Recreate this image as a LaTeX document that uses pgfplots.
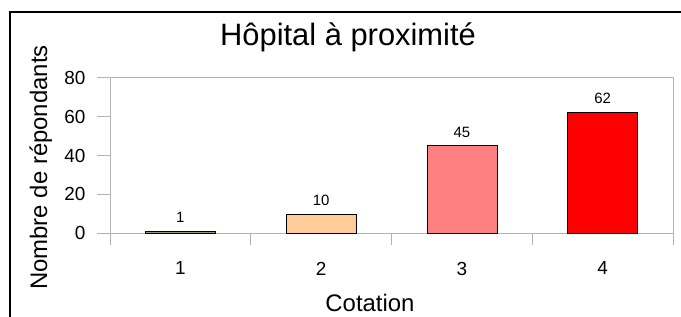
\documentclass[border=0pt]{standalone}
\usepackage{fontspec}
\setmainfont{Liberation Sans}
\usepackage{pgfplots}
\pgfplotsset{compat=1.18}
\definecolor{c1}{RGB}{153,153,119}
\definecolor{c2}{RGB}{255,204,153}
\definecolor{c3}{RGB}{255,128,128}
\definecolor{c4}{RGB}{255,0,0}
\definecolor{axgray}{RGB}{179,179,179}
\begin{document}
\begin{tikzpicture}[x=1bp,y=1bp]
\clip (0,0) rectangle (681,316);
\path[use as bounding box] (0,0) rectangle (681,316);
\draw[black, line width=1.2bp] (10,-10) -- (10,304) -- (700,304);
\begin{axis}[
  at={(110bp,82.7bp)}, anchor=south west,
  scale only axis, width=563bp, height=155.6bp,
  xmin=0.5, xmax=4.5, ymin=0, ymax=80,
  ybar, bar width=70bp, bar shift=0pt,
  axis line style={axgray, line width=0.8bp},
  xtick={1,2,3,4},
  minor xtick={0.5,1.5,2.5,3.5,4.5},
  ytick={0,20,40,60,80},
  tick align=outside,
  major tick length=13bp, minor tick length=12bp,
  tick style={axgray, line width=0.8bp},
  major x tick style={draw=none},
  xtick pos=bottom, ytick pos=left,
  ticklabel style={font=\fontsize{19}{22}\selectfont},
  /pgf/number format/assume math mode=true,
  yticklabel style={anchor=east, xshift=-8bp},
  xticklabel style={anchor=north, yshift=-12bp},
  nodes near coords,
  every node near coord/.append style={font=\fontsize{15}{18}\selectfont, black, yshift=5bp},
]
\addplot[fill=c1, draw=black, line width=0.6bp] coordinates {(1,1)};
\addplot[fill=c2, draw=black, line width=0.6bp] coordinates {(2,10)};
\addplot[fill=c3, draw=black, line width=0.6bp] coordinates {(3,45)};
\addplot[fill=c4, draw=black, line width=0.6bp] coordinates {(4,62)};
\end{axis}
\node[anchor=base, font=\fontsize{31}{36}\selectfont] at (348,271) {Hôpital à proximité};
\node[rotate=90, anchor=base, font=\fontsize{24}{28}\selectfont] at (47,148.5) {Nombre de répondants};
\node[anchor=base, font=\fontsize{24}{28}\selectfont] at (370,5) {Cotation};
\end{tikzpicture}
\end{document}
